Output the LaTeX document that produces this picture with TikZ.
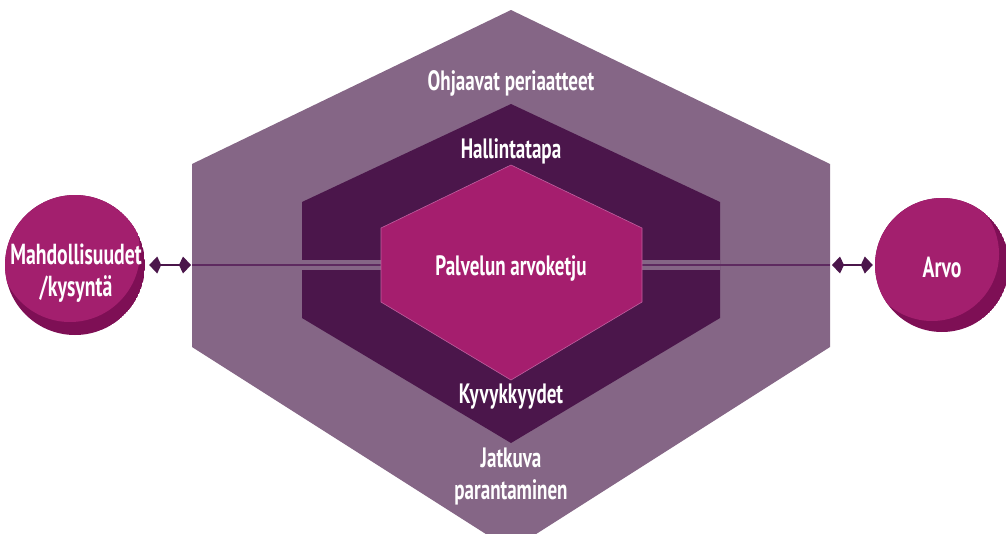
\documentclass[tikz,border=0pt]{standalone}
\usepackage{fontspec}
\setmainfont{PT Sans}[FakeStretch=0.68]
\usetikzlibrary{arrows.meta}
\definecolor{outerc}{HTML}{856686}
\definecolor{midc}{HTML}{4B164B}
\definecolor{innc}{HTML}{A51E6E}
\definecolor{innedge}{HTML}{C060A0}
\definecolor{circc}{HTML}{A31F6E}
\definecolor{circd}{HTML}{7E0F55}
\definecolor{linec}{HTML}{5E2A60}
\definecolor{arrc}{HTML}{4B164B}
\begin{document}
\begin{tikzpicture}[x=1pt,y=-1pt,
  lab/.style={text=white,font=\bfseries\fontsize{28}{32}\selectfont,align=center,inner sep=0pt},
  clab/.style={text=white,font=\bfseries\fontsize{29}{32}\selectfont,align=center,inner sep=0pt},
  ball/.style={circle,inner sep=0pt,minimum size=#1},
  conn/.style={arrc,line width=2pt,{Kite[length=12pt,width=17pt,inset=4pt]}-{Kite[length=12pt,width=17pt,inset=4pt]}},
  axis/.style={linec,line width=2.2pt}]
\useasboundingbox (0,0) rectangle (1006,533);
\clip (0,0) rectangle (1006,533);
% outer hexagon
\fill[outerc] (511,10) -- (830,164) -- (830,347) -- (511,550) -- (192,347) -- (192,164) -- cycle;
% middle hexagon
\fill[midc] (511,104) -- (720,202) -- (720,318) -- (511,443) -- (302,318) -- (302,202) -- cycle;
% light strips through middle band
\fill[outerc] (302,260) rectangle (381,270);
\fill[outerc] (642,260) rectangle (720,270);
% axis lines
\coordinate (oL) at (192,265);
\coordinate (oR) at (830,265);
\coordinate (iL) at (381,265);
\coordinate (iR) at (642,265);
\draw[axis] (oL) -- (iL);
\draw[axis] (iR) -- (oR);
% inner hexagon
\fill[innc, draw=innedge, line width=0.6pt] (511,165) -- (642,228) -- (642,302) -- (511,380) -- (381,302) -- (381,228) -- cycle;
% circles
\begin{scope}
  \clip (75,265) circle[radius=70pt];
  \fill[circd] (75,265) circle[radius=70pt];
  \fill[circc] (70,252) circle[radius=70pt];
\end{scope}
\begin{scope}
  \clip (942,265) circle[radius=67pt];
  \fill[circd] (942,265) circle[radius=67pt];
  \fill[circc] (932,254) circle[radius=67pt];
\end{scope}
\node[ball=140pt] (L) at (75,265) {};
\node[ball=134pt] (R) at (942,265) {};
\node[clab] (Lt) at (76,273) {Mahdollisuudet\\/kysyntä};
\node[clab] (Rt) at (942,267) {Arvo};
% connectors
\draw[conn] ([xshift=4pt]L.east) -- ([xshift=-1pt]oL);
\draw[conn] ([xshift=2pt]oR) -- ([xshift=-2pt]R.west);
% labels
\node[lab] (t1) at (511,83) {Ohjaavat periaatteet};
\node[lab] (t2) at (511,151) {Hallintatapa};
\node[lab] (t3) at (511,268) {Palvelun arvoketju};
\node[lab] (t4) at (511,397) {Kyvykkyydet};
\node[lab] (t5) at (511,476) {Jatkuva\\parantaminen};
\end{tikzpicture}
\end{document}
